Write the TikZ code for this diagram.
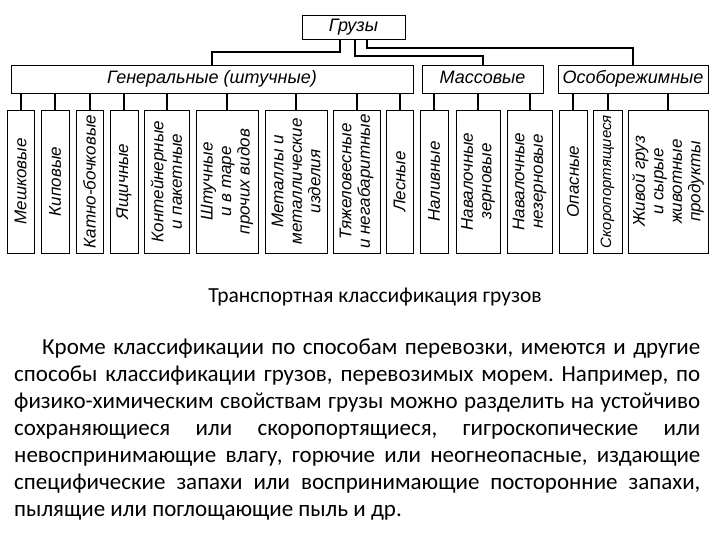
\documentclass[tikz,border=0pt]{standalone}
\usepackage{fontspec}
\setmainfont{Carlito}
\newfontfamily\schemefont{Liberation Sans}
\usetikzlibrary{calc}

\tikzset{
  box/.style={draw, line width=0.9pt, inner sep=0pt, text height=13pt, text depth=4pt,
    font=\schemefont\itshape\fontsize{18}{20}\selectfont},
  leaf/.style={draw, line width=0.9pt, inner sep=0pt, rotate=90, minimum width=143pt,
    align=center, font=\schemefont\itshape\fontsize{17}{18.5}\selectfont},
  link/.style={line width=2pt},
}

\begin{document}
\begin{tikzpicture}[x=1pt,y=-1pt]
  \useasboundingbox (0,0) rectangle (720,540);

  % root and main groups
  \node[box, minimum width=103pt, minimum height=24pt] (gruz) at (353.5,27) {Грузы};
  \node[box, minimum width=402pt, minimum height=28pt] (gen) at (212,79) {Генеральные (штучные)};
  \node[box, minimum width=121pt, minimum height=28pt] (mass) at (482.5,79) {Массовые};
  \node[box, minimum width=150pt, minimum height=28pt] (osob) at (633,79) {Особорежимные};

  \draw[link] ([xshift=-13.5pt]gruz.south) |- ([yshift=13pt]gen.north) -- (gen.north);
  \draw[link] ([xshift=1.5pt]gruz.south) |- ([yshift=9pt]mass.north) -- (mass.north);
  \draw[link] ([xshift=13.5pt]gruz.south) |- ([yshift=17pt]osob.north) -- (osob.north);

  % kinds of cargo
  \node[leaf, minimum height=27pt] (mesh) at (20.5,181.5) {Мешковые};
  \node[leaf, minimum height=28pt] (kip) at (55,181.5) {Киповые};
  \node[leaf, minimum height=27pt] (katno) at (89.5,181.5) {Катно-бочковые};
  \node[leaf, minimum height=28pt] (yasch) at (124,181.5) {Ящичные};
  \node[leaf, minimum height=45pt] (kont) at (166.5,181.5) {Контейнерные\\ и пакетные};
  \node[leaf, minimum height=62pt] (shtuch) at (227,181.5) {Штучные\\ и в таре\\ прочих видов};
  \node[leaf, minimum height=62pt] (metal) at (296,181.5) {Металлы и\\ металлические\\ изделия};
  \node[leaf, minimum height=47pt] (tyazh) at (356.5,181.5) {Тяжеловесные\\ и негабаритные};
  \node[leaf, minimum height=27pt] (les) at (399.5,181.5) {Лесные};
  \node[leaf, minimum height=28pt] (naliv) at (434,181.5) {Наливные};
  \node[leaf, minimum height=44pt] (navz) at (478,181.5) {Навалочные\\ зерновые};
  \node[leaf, minimum height=45pt] (navn) at (529.5,181.5) {Навалочные\\ незерновые};
  \node[leaf, minimum height=28pt] (opas) at (573,181.5) {Опасные};
  \node[leaf, minimum height=29pt, font=\schemefont\itshape\fontsize{15}{17}\selectfont] (skoro) at (607.5,181.5) {Скоропортящиеся};
  \node[leaf, minimum height=80pt] (zhiv) at (668,181.5) {Живой груз\\ и сырые\\ животные\\ продукты};

  \foreach \n in {mesh,kip,katno,yasch,kont,shtuch,metal,tyazh,les}
    \draw[link] (\n.east) -- (\n.east |- gen.south);
  \foreach \n in {naliv,navz,navn}
    \draw[link] (\n.east) -- (\n.east |- mass.south);
  \foreach \n in {opas,skoro,zhiv}
    \draw[link] (\n.east) -- (\n.east |- osob.south);

  % caption and text
  \node[font=\fontsize{21.5}{27}\selectfont] (caption) at (375,297) {Транспортная классификация грузов};
  \node[anchor=north west, inner sep=0pt, text width=686pt, align=justify,
    font=\fontsize{23}{27}\selectfont] (text) at (14,339)
    {\frenchspacing\hyphenpenalty=10000\hspace*{28pt}Кроме классификации по способам перевозки, имеются и другие\linebreak
    способы классификации грузов, перевозимых морем. Например, по\linebreak
    физико-химическим свойствам грузы можно разделить на устойчиво\linebreak
    сохраняющиеся или скоропортящиеся, гигроскопические или\linebreak
    невоспринимающие влагу, горючие или неогнеопасные, издающие\linebreak
    специфические запахи или воспринимающие посторонние запахи,\linebreak
    пылящие или поглощающие пыль и др.};
\end{tikzpicture}
\end{document}
